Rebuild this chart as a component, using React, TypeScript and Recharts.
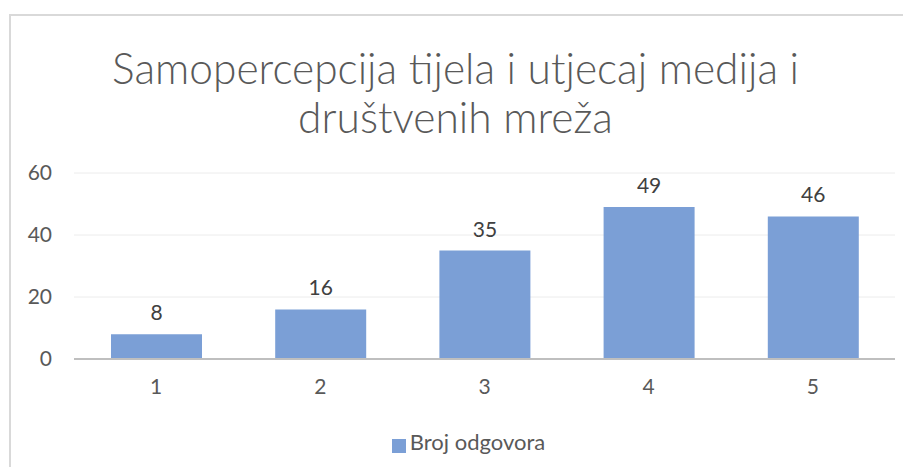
import { BarChart, Bar, XAxis, YAxis, CartesianGrid, Legend, LabelList } from 'recharts'

const categories = ['1', '2', '3', '4', '5']
const responses = [8, 16, 35, 49, 46]
const yTicks = [0, 20, 40, 60]

const data = categories.map((name, i) => ({ name, 'Broj odgovora': responses[i] }))

const FONT = 'Lato, "Open Sans", sans-serif'

export default function App() {
    return (
        <div style={{ position: 'relative', width: 911, height: 475, margin: -8, background: '#fff', fontFamily: FONT, overflow: 'hidden' }}>
            <div style={{ position: 'absolute', left: 9, top: 14, width: 940, height: 500, border: '2px solid #d9d9d9', boxSizing: 'border-box' }} />
            <div style={{ position: 'absolute', top: 43, left: 0, width: 911, textAlign: 'center', fontSize: 42.5, fontWeight: 300, lineHeight: '49px', color: '#595959' }}>
                Samopercepcija tijela i utjecaj medija i<br />društvenih mreža
            </div>
            <div style={{ position: 'absolute', left: 0, top: 0 }}>
                <BarChart
                    width={911}
                    height={475}
                    data={data}
                    margin={{ top: 173, right: 16, left: 0, bottom: 86 }}
                >
                    <CartesianGrid vertical={false} stroke="#ececec" strokeWidth={1} />
                    <XAxis
                        dataKey="name"
                        axisLine={{ stroke: '#bfbfbf', strokeWidth: 2 }}
                        tickLine={false}
                        tickSize={0}
                        tickMargin={20}
                        tick={{ fill: '#595959', fontSize: 21, fontFamily: FONT }}
                    />
                    <YAxis
                        width={74}
                        domain={[0, 60]}
                        ticks={yTicks}
                        axisLine={false}
                        tickLine={false}
                        tickSize={0}
                        tickMargin={22}
                        tick={{ fill: '#595959', fontSize: 21, fontFamily: FONT }}
                    />
                    <Legend
                        verticalAlign="middle"
                        align="center"
                        iconType="square"
                        iconSize={14}
                        wrapperStyle={{ top: 428, left: 18, width: 911 }}
                        formatter={(value) => <span style={{ color: '#595959', fontSize: 22, fontFamily: FONT }}>{value}</span>}
                    />
                    <Bar dataKey="Broj odgovora" fill="#7b9fd6" barSize={91} isAnimationActive={false}>
                        <LabelList dataKey="Broj odgovora" position="top" offset={14} fill="#404040" fontSize={21} fontFamily={FONT} />
                    </Bar>
                </BarChart>
            </div>
        </div>
    )
}
